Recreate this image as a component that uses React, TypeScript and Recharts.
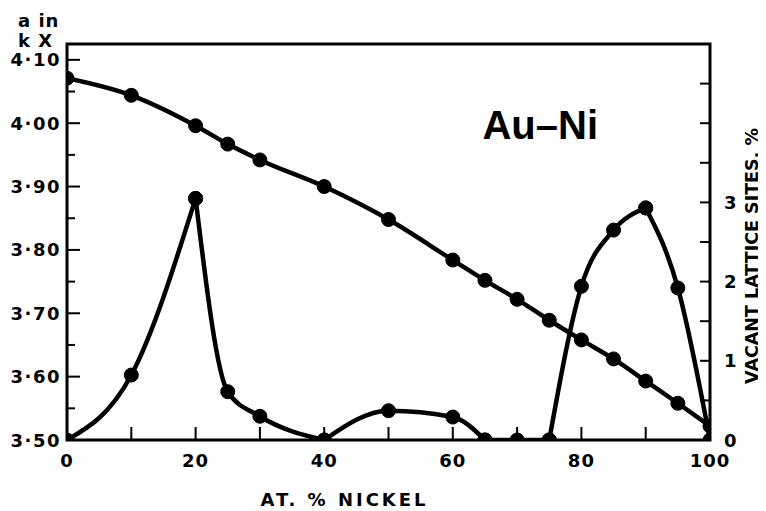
import {
  LineChart,
  Line,
  XAxis,
  YAxis,
  ReferenceArea,
  ReferenceDot,
} from "recharts";

// at. % Ni, shared by both curves
const nickel = [0, 10, 20, 25, 30, 40, 50, 60, 65, 70, 75, 80, 85, 90, 95, 100];
// lattice parameter a, kX
const latticeParam = [
  4.071, 4.044, 3.996, 3.967, 3.942, 3.9, 3.848, 3.784, 3.752, 3.722, 3.689,
  3.658, 3.628, 3.593, 3.558, 3.522,
];
// vacant lattice sites, %
const vacantSites = [
  0, 0.82, 3.05, 0.61, 0.3, 0, 0.37, 0.29, 0, 0, 0, 1.94, 2.65, 2.93, 1.92, 0,
];
// the vacancy curve is drawn as separate smooth pieces (cusps at 20 and 90)
const vacancyPieces = [
  [0, 2],
  [2, 5],
  [5, 8],
  [8, 10],
  [10, 13],
  [13, 15],
];

const xTicks = [0, 10, 20, 30, 40, 50, 60, 70, 80, 90, 100];
const aTicks = [
  3.5, 3.55, 3.6, 3.65, 3.7, 3.75, 3.8, 3.85, 3.9, 3.95, 4.0, 4.05, 4.1,
];
const vTicks = [0, 0.5, 1, 1.5, 2, 2.5, 3, 3.5, 4, 4.5];

const rows = nickel.map((x, i) => {
  const row: any = { x, a: latticeParam[i] };
  vacancyPieces.forEach(([s, e], k) => {
    if (i >= s && i <= e) row[`v${k}`] = vacantSites[i];
  });
  return row;
});

const FONT = "DejaVu Sans";
const ink = "#000";

function XTick(props: any) {
  const { x, y, payload } = props;
  const v = payload.value;
  return (
    <g>
      {v > 0 && v < 100 && (
        <line x1={x} y1={y} x2={x} y2={y - 13} stroke={ink} strokeWidth={2} />
      )}
      {v % 20 === 0 && (
        <text
          x={x}
          y={y + 27}
          textAnchor="middle"
          fontFamily={FONT}
          fontWeight="bold"
          fontSize={18}
          letterSpacing={1}
          fill={ink}
        >
          {v}
        </text>
      )}
    </g>
  );
}

function ATick(props: any) {
  const { x, y, payload } = props;
  const v = payload.value;
  const major = Math.round(v * 100) % 10 === 0;
  return (
    <g>
      <line x1={x} y1={y} x2={x + (major ? 13 : 8)} y2={y} stroke={ink} strokeWidth={2} />
      {major && (
        <text
          x={x - 6}
          y={y + 6.5}
          textAnchor="end"
          fontFamily={FONT}
          fontWeight="bold"
          fontSize={18}
          letterSpacing={1.5}
          fill={ink}
        >
          {v.toFixed(2).replace(".", "·")}
        </text>
      )}
    </g>
  );
}

function VTick(props: any) {
  const { x, y, payload } = props;
  const v = payload.value;
  const labelled = Number.isInteger(v) && v <= 3;
  return (
    <g>
      {v > 0 && (
        <line x1={x} y1={y} x2={x - 10} y2={y} stroke={ink} strokeWidth={2} />
      )}
      {labelled && (
        <text
          x={x + 14}
          y={y + 6.5}
          textAnchor="start"
          fontFamily={FONT}
          fontWeight="bold"
          fontSize={18}
          fill={ink}
        >
          {v}
        </text>
      )}
    </g>
  );
}

const dotStyle = { r: 7, fill: ink, stroke: ink, strokeWidth: 1, clipDot: true };

export default function App() {
  return (
    <div style={{ width: 758, height: 503, background: "#fff" }}>
      <LineChart
        width={758}
        height={503}
        data={rows}
        margin={{ top: 36, right: 0, bottom: 0, left: 0 }}
      >
        <XAxis
          dataKey="x"
          type="number"
          domain={[0, 100]}
          ticks={xTicks}
          interval={0}
          height={71}
          axisLine={false}
          tickLine={false}
          tickSize={0}
          tickMargin={0}
          tick={<XTick />}
          allowDataOverflow
          label={{
            content: (p: any) => {
              const vb = p.viewBox;
              return (
                <text
                  x={vb.x + vb.width / 2 - 44}
                  y={vb.y + 66}
                  textAnchor="middle"
                  fontFamily={FONT}
                  fontWeight="bold"
                  fontSize={18}
                  letterSpacing={3}
                  fill={ink}
                >
                  AT. % NICKEL
                </text>
              );
            },
          }}
        />
        <YAxis
          yAxisId="a"
          orientation="left"
          type="number"
          domain={[3.5, 4.125]}
          ticks={aTicks}
          interval={0}
          width={59}
          axisLine={false}
          tickLine={false}
          tickSize={0}
          tickMargin={0}
          tick={<ATick />}
          allowDataOverflow
          label={{
            content: (p: any) => {
              const vb = p.viewBox;
              return (
                <text
                  fontFamily={FONT}
                  fontWeight="bold"
                  fontSize={18}
                  letterSpacing={1}
                  fill={ink}
                >
                  <tspan x={vb.x + 10} y={vb.y - 17}>
                    a in
                  </tspan>
                  <tspan x={vb.x + 10} y={vb.y + 3}>
                    k X
                  </tspan>
                </text>
              );
            },
          }}
        />
        <YAxis
          yAxisId="v"
          orientation="right"
          type="number"
          domain={[0, 5]}
          ticks={vTicks}
          interval={0}
          width={56}
          axisLine={false}
          tickLine={false}
          tickSize={0}
          tickMargin={0}
          tick={<VTick />}
          allowDataOverflow
          label={{
            content: (p: any) => {
              const vb = p.viewBox;
              const cx = vb.x + 42;
              const cy = vb.y + vb.height / 2 + 14;
              return (
                <text
                  x={cx}
                  y={cy}
                  transform={`rotate(-90 ${cx} ${cy})`}
                  textAnchor="middle"
                  dominantBaseline="central"
                  fontFamily={FONT}
                  fontWeight="bold"
                  fontSize={17.5}
                  fill={ink}
                >
                  VACANT LATTICE SITES, %
                </text>
              );
            },
          }}
        />
        <ReferenceArea
          yAxisId="a"
          x1={0}
          x2={100}
          y1={3.5}
          y2={4.125}
          fill="none"
          fillOpacity={0}
          stroke={ink}
          strokeWidth={3}
        />
        <Line
          yAxisId="a"
          dataKey="a"
          type="monotone"
          stroke={ink}
          strokeWidth={4.5}
          dot={dotStyle}
          activeDot={false}
          isAnimationActive={false}
        />
        {vacancyPieces.map((_, k) => (
          <Line
            key={k}
            yAxisId="v"
            dataKey={`v${k}`}
            type="monotone"
            stroke={ink}
            strokeWidth={4.5}
            dot={dotStyle}
            activeDot={false}
            isAnimationActive={false}
          />
        ))}
        <ReferenceDot
          yAxisId="a"
          x={73.6}
          y={3.997}
          r={0}
          fill="none"
          stroke="none"
          label={{
            value: "Au–Ni",
            position: "center",
            fontFamily: "Liberation Sans",
            fontWeight: "bold",
            fontSize: 40,
            fill: ink,
          }}
        />
      </LineChart>
    </div>
  );
}
